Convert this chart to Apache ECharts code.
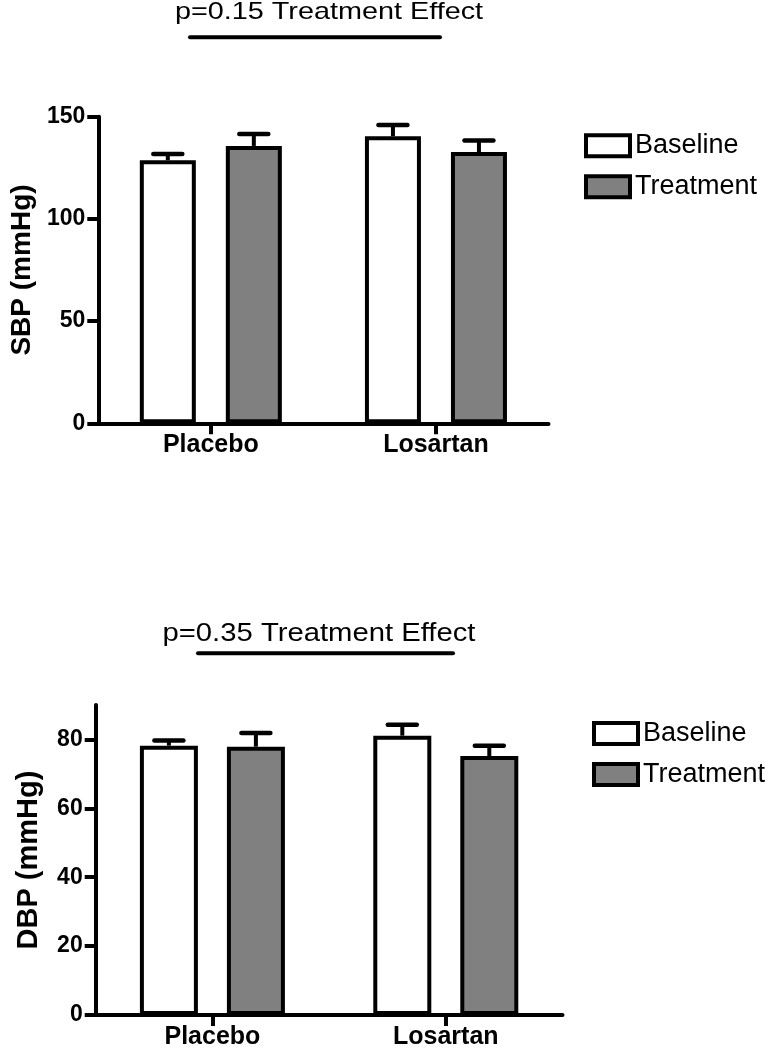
<!DOCTYPE html>
<html>
<head>
<meta charset="utf-8">
<script src="https://cdn.jsdelivr.net/npm/echarts@6/dist/echarts.min.js"></script>
<style>
html,body{margin:0;padding:0;background:#fff;}
#chart{width:778px;height:1050px;}
</style>
</head>
<body>
<div id="chart"></div>
<script>
// ---- data ----
const categories = ['Placebo', 'Losartan'];
const seriesNames = ['Baseline', 'Treatment'];
const axisNames = ['SBP (mmHg)', 'DBP (mmHg)'];
const panelTitles = ['p=0.15 Treatment Effect', 'p=0.35 Treatment Effect'];
const sbpTicks = [0, 50, 100, 150];
const dbpTicks = [0, 20, 40, 60, 80];
const sbpBaseline = [128.7, 140.4];
const sbpBaselineSem = [3.1, 5.5];
const sbpTreatment = [135.7, 132.7];
const sbpTreatmentSem = [5.8, 5.6];
const dbpBaseline = [78.2, 81.1];
const dbpBaselineSem = [1.5, 3.2];
const dbpTreatment = [77.9, 75.2];
const dbpTreatmentSem = [4.0, 3.0];

// ---- styling ----
const FONT = "'Liberation Sans', Arial, Helvetica, sans-serif";
const fills = ['#ffffff', '#808080'];

function errData(means, sems) {
  return means.map((m, i) => [i, m, m + sems[i]]);
}
function errRender(offset) {
  return function (params, api) {
    const c = api.value(0);
    const top = api.coord([c, api.value(1)]);
    const cap = api.coord([c, api.value(2)]);
    const x = top[0] + offset;
    return {
      type: 'group',
      children: [
        { type: 'line', shape: { x1: x, y1: top[1], x2: x, y2: cap[1] },
          style: { stroke: '#000', lineWidth: 4 } },
        { type: 'line', shape: { x1: x - 14.5, y1: cap[1], x2: x + 14.5, y2: cap[1] },
          style: { stroke: '#000', lineWidth: 4.5, lineCap: 'round' } }
      ]
    };
  };
}

function yAxisCfg(gridIndex, name, ticks, max, interval, nameGap, nameSize) {
  return {
    type: 'value', gridIndex: gridIndex, min: 0, max: max, interval: interval,
    name: name, nameLocation: 'middle', nameGap: nameGap,
    nameTextStyle: { fontSize: nameSize, fontWeight: 'bold', color: '#000', fontFamily: FONT },
    axisLine: { show: true, lineStyle: { color: '#000', width: 4 } },
    axisTick: { show: true, length: 11, customValues: ticks, lineStyle: { color: '#000', width: 4 } },
    axisLabel: { customValues: ticks, margin: 13, fontSize: 23, fontWeight: 'bold', color: '#000', fontFamily: FONT },
    splitLine: { show: false }
  };
}
function xAxisCfg(gridIndex, margin) {
  return {
    type: 'category', gridIndex: gridIndex, data: categories,
    axisLine: { show: true, lineStyle: { color: '#000', width: 4 } },
    axisTick: { show: true, alignWithLabel: true, length: 11, lineStyle: { color: '#000', width: 4 } },
    axisLabel: { margin: margin, fontSize: 25, fontWeight: 'bold', color: '#000', fontFamily: FONT },
    splitLine: { show: false }
  };
}
function barSeries(name, idx, data, barWidth, barGap) {
  return {
    type: 'bar', name: name, xAxisIndex: idx, yAxisIndex: idx, data: data,
    barWidth: barWidth, barGap: barGap,
    itemStyle: { color: fills[seriesNames.indexOf(name)], borderColor: '#000', borderWidth: 4 },
    emphasis: { disabled: true }, silent: true, z: 2
  };
}
function errSeries(idx, means, sems, offset) {
  return {
    type: 'custom', xAxisIndex: idx, yAxisIndex: idx,
    data: errData(means, sems), encode: { x: 0, y: 1 },
    renderItem: errRender(offset), z: 3, silent: true
  };
}
function legendCfg(left, top) {
  return {
    data: seriesNames, orient: 'vertical', left: left, top: top,
    icon: 'rect', itemWidth: 44, itemHeight: 21, itemGap: 14, selectedMode: false,
    itemStyle: { borderColor: '#000', borderWidth: 4 },
    textStyle: { fontSize: 27, color: '#000', fontFamily: FONT, lineHeight: 27 }
  };
}
function titleText(text, cx, cy, size, sx) {
  return {
    type: 'text', x: cx, y: cy, scaleX: sx, silent: true,
    style: { text: text, x: 0, y: 0, align: 'center', verticalAlign: 'middle',
      font: 'normal ' + size + 'px ' + FONT, fill: '#000' }
  };
}
function bracket(x1, x2, y) {
  return { type: 'line', silent: true, shape: { x1: x1, y1: y, x2: x2, y2: y },
    style: { stroke: '#000', lineWidth: 4, lineCap: 'round' } };
}

const chart = echarts.init(document.getElementById('chart'), null, { renderer: 'canvas' });
chart.setOption({
  animation: false,
  backgroundColor: '#fff',
  grid: [
    { left: 89.3, right: 229.5, top: 116.7, bottom: 626.7 },
    { left: 95.7, right: 215.5, top: 705, bottom: 35 }
  ],
  xAxis: [xAxisCfg(0, 9), xAxisCfg(1, 10)],
  yAxis: [
    yAxisCfg(0, axisNames[0], sbpTicks, 150, 50, 61, 28),
    yAxisCfg(1, axisNames[1], dbpTicks, 90, 10, 52, 29)
  ],
  legend: [legendCfg(579, 127.3), legendCfg(587, 715)],
  series: [
    barSeries(seriesNames[0], 0, sbpBaseline, 56, '53.6%'),
    barSeries(seriesNames[1], 0, sbpTreatment, 56, '53.6%'),
    barSeries(seriesNames[0], 1, dbpBaseline, 58, '50%'),
    barSeries(seriesNames[1], 1, dbpTreatment, 58, '50%'),
    errSeries(0, sbpBaseline, sbpBaselineSem, -43),
    errSeries(0, sbpTreatment, sbpTreatmentSem, 43),
    errSeries(1, dbpBaseline, dbpBaselineSem, -43.5),
    errSeries(1, dbpTreatment, dbpTreatmentSem, 43.5)
  ],
  graphic: [
    titleText(panelTitles[0], 329, 12.5, 24, 1.2),
    bracket(190, 440, 37.3),
    titleText(panelTitles[1], 319, 634, 25, 1.17),
    bracket(198, 453, 653.3)
  ]
});
</script>
</body>
</html>
